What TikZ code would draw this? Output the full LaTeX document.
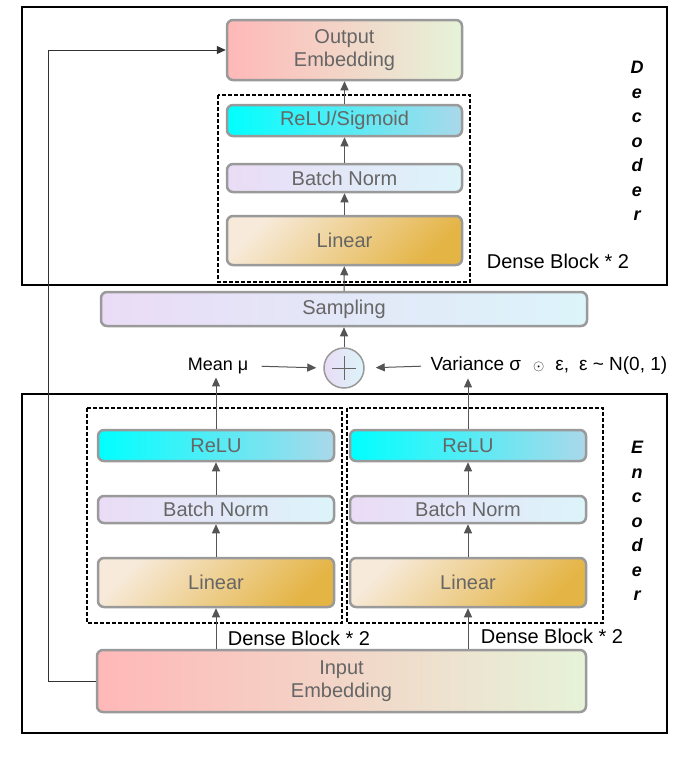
\documentclass[tikz,border=0pt]{standalone}
\usepackage{fontspec}
\setmainfont{Liberation Sans}
\usetikzlibrary{arrows.meta}

\definecolor{boxline}{HTML}{9A9A9A}
\definecolor{txtgray}{HTML}{666666}
\definecolor{arrgray}{HTML}{555555}
\definecolor{embA}{HTML}{FFB8B8}
\definecolor{embB}{HTML}{F5E3CA}
\definecolor{embC}{HTML}{E6F3D8}
\definecolor{actA}{HTML}{00FFFF}
\definecolor{actB}{HTML}{AAD8EA}
\definecolor{normA}{HTML}{EADCF6}
\definecolor{normB}{HTML}{DCF4FA}
\definecolor{linA}{HTML}{F7EADA}
\definecolor{linB}{HTML}{E4B445}

\tikzset{
  blk/.style={draw=boxline, line width=2.5pt, rounded corners=6pt, text=txtgray,
    font=\fontsize{20}{23}\selectfont, align=center, inner sep=0pt},
  emb/.style={blk, left color=embA, middle color=embB, right color=embC},
  act/.style={blk, left color=actA, right color=actB},
  norm/.style={blk, left color=normA, right color=normB},
  lin/.style={blk, top color=linA, bottom color=linB, shading angle=45},
  arr/.style={draw=arrgray, line width=1pt, -{Triangle[width=8pt,length=9pt]}},
  frame/.style={draw, line width=1.5pt},
  dblock/.style={draw, line width=1.2pt, dash pattern=on 4pt off 2pt},
  lbl/.style={font=\fontsize{18}{20}\selectfont},
  varlbl/.style={font=\fontsize{19}{21}\selectfont},
  dlbl/.style={font=\fontsize{20}{22}\selectfont},
  side/.style={font=\fontsize{18}{24.5}\selectfont\bfseries\itshape, align=center},
}

\begin{document}
\begin{tikzpicture}[x=1pt,y=-1pt]
\fill[white] (0,0) rectangle (697,764);
\useasboundingbox (0,0) rectangle (697,764);

% decoder
\draw[frame] (22,7) rectangle (667,285);
\draw[dblock] (218,95) rectangle (470,282);
\node[emb, minimum width=235pt, minimum height=60pt] (outemb) at (344.5,50) {Output\\Embedding};
\node[act, minimum width=235pt, minimum height=31pt] (drelu) at (344.5,120.5) {ReLU/Sigmoid};
\node[norm, minimum width=235pt, minimum height=28pt] (dbn) at (344.5,178) {Batch Norm};
\node[lin, minimum width=235pt, minimum height=49pt] (dlin) at (344.5,240.5) {Linear};
\node[dlbl] (ddense) at (558,261) {Dense Block * 2};
\node[side] (declbl) at (637,141) {D\\e\\c\\o\\d\\e\\r};
\draw[arr] (dlin) -- (dbn);
\draw[arr] (dbn) -- (drelu);
\draw[arr] (drelu) -- (outemb);

% sampling
\node[norm, minimum width=486pt, minimum height=34pt] (samp) at (344,309) {Sampling};
\node[circle, draw=boxline, line width=1.5pt, minimum size=40pt, left color=normA, right color=normB] (plus) at (344,368) {};
\draw[txtgray, line width=1pt] (plus.center) ++(-12,0) -- ++(24,0);
\draw[txtgray, line width=1pt] (plus.center) ++(0,-12) -- ++(0,24);
\node[lbl] (mean) at (218,366) {Mean μ};
\node[varlbl, anchor=west] (var) at (427,366) {Variance σ\hspace{12pt}{\fontsize{15}{15}\selectfont$\odot$}\hspace{11pt}ε,\hspace{10pt}ε \string~ N(0, 1)};
\draw[arr] (plus) -- (samp);
\draw[arr] (samp) -- (dlin);
\draw[arr, shorten <=10pt, shorten >=7pt] (mean.east) -- (plus.west);
\draw[arr, shorten <=6pt, shorten >=11pt] (var.west) -- (plus.east);

% encoder
\draw[frame] (22,394) rectangle (667,733);
\draw[dblock] (87,408) rectangle (342,623);
\draw[dblock] (347,408) rectangle (603,623);
\node[act, minimum width=236pt, minimum height=31pt] (lrelu) at (216,445.5) {ReLU};
\node[norm, minimum width=236pt, minimum height=27pt] (lbn) at (216,509.5) {Batch Norm};
\node[lin, minimum width=236pt, minimum height=49pt] (llin) at (216,582.5) {Linear};
\node[act, minimum width=236pt, minimum height=31pt] (rrelu) at (468,445.5) {ReLU};
\node[norm, minimum width=236pt, minimum height=27pt] (rbn) at (468,509.5) {Batch Norm};
\node[lin, minimum width=236pt, minimum height=49pt] (rlin) at (468,582.5) {Linear};
\node[dlbl] (ldense) at (299,638) {Dense Block * 2};
\node[dlbl] (rdense) at (552,636) {Dense Block * 2};
\node[side] (enclbl) at (637,521) {E\\n\\c\\o\\d\\e\\r};
\node[emb, minimum width=489pt, minimum height=62pt] (inemb) at (341.5,681) {Input\\Embedding};
\draw[arr] (llin) -- (lbn);
\draw[arr] (lbn) -- (lrelu);
\draw[arr] (rlin) -- (rbn);
\draw[arr] (rbn) -- (rrelu);
\draw[arr] (inemb.north -| llin) -- (llin);
\draw[arr] (inemb.north -| rlin) -- (rlin);
\draw[arr] (lrelu) -- (lrelu.north |- mean.south);
\draw[arr] (rrelu) -- (rrelu.north |- var.south);

% skip connection
\draw[arr, draw=black!80] (inemb.west) -- ++(-47,0) |- (outemb.west);
\end{tikzpicture}
\end{document}
